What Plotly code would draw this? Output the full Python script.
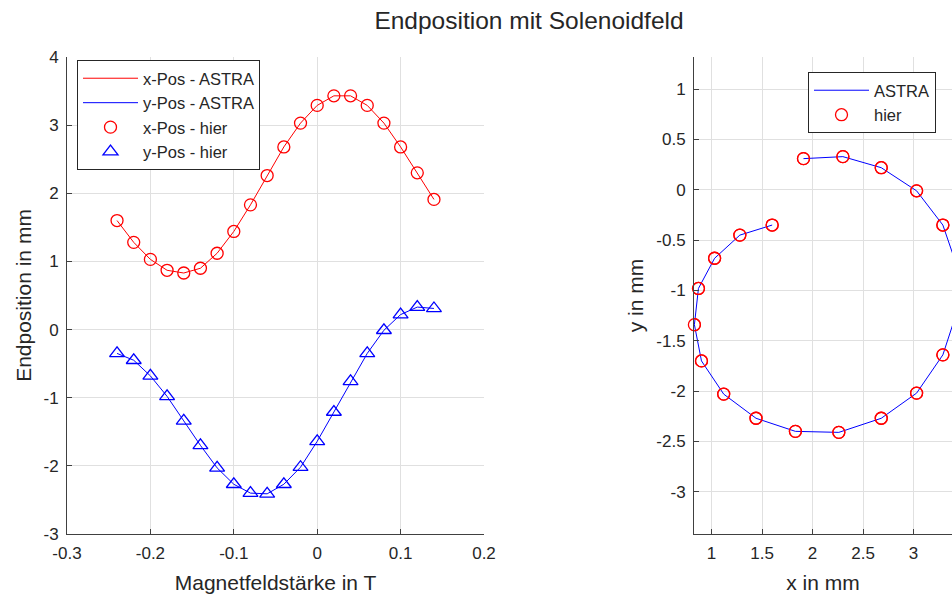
import plotly.graph_objects as go

# Magnetic field strength in T
field = [-0.24, -0.22, -0.20, -0.18, -0.16, -0.14, -0.12, -0.10, -0.08, -0.06,
         -0.04, -0.02, 0.00, 0.02, 0.04, 0.06, 0.08, 0.10, 0.12, 0.14]
# End position x in mm
x_pos = [1.60, 1.28, 1.03, 0.87, 0.83, 0.90, 1.12, 1.44, 1.83, 2.26,
         2.68, 3.03, 3.29, 3.43, 3.43, 3.29, 3.03, 2.68, 2.30, 1.91]
# End position y in mm
y_pos = [-0.35, -0.45, -0.68, -0.98, -1.34, -1.70, -2.03, -2.27, -2.40, -2.41,
         -2.27, -2.02, -1.64, -1.21, -0.76, -0.35, -0.01, 0.22, 0.33, 0.31]

FONT = "Liberation Sans, Arial, sans-serif"
TXT = "#262626"
RED = "#ff0000"
BLUE = "#0000ff"

circle = dict(symbol="circle-open", size=12, color=RED, line=dict(width=1.3, color=RED))
triangle = dict(symbol="triangle-up-open", size=13, color=BLUE, line=dict(width=1.3, color=BLUE))

fig = go.Figure()

# Left subplot
fig.add_trace(go.Scatter(x=field, y=x_pos, mode="lines", name="x-Pos - ASTRA",
                         line=dict(color=RED, width=1), legend="legend",
                         xaxis="x", yaxis="y", cliponaxis=False))
fig.add_trace(go.Scatter(x=field, y=y_pos, mode="lines", name="y-Pos - ASTRA",
                         line=dict(color=BLUE, width=1), legend="legend",
                         xaxis="x", yaxis="y", cliponaxis=False))
fig.add_trace(go.Scatter(x=field, y=x_pos, mode="markers", name="x-Pos - hier",
                         marker=circle, legend="legend",
                         xaxis="x", yaxis="y", cliponaxis=False))
fig.add_trace(go.Scatter(x=field, y=y_pos, mode="markers", name="y-Pos - hier",
                         marker=triangle, legend="legend",
                         xaxis="x", yaxis="y", cliponaxis=False))

# Right subplot (the axes are cut off by the right figure edge, as in the original)
fig.add_trace(go.Scatter(x=x_pos, y=y_pos, mode="lines", name="ASTRA",
                         line=dict(color=BLUE, width=1), legend="legend2",
                         xaxis="x2", yaxis="y2", cliponaxis=True))
fig.add_trace(go.Scatter(x=x_pos, y=y_pos, mode="markers", name="hier",
                         marker=circle, legend="legend2",
                         xaxis="x2", yaxis="y2", cliponaxis=False))
# same markers again, clipped at the figure edge so the cut-off ones still show
fig.add_trace(go.Scatter(x=x_pos, y=y_pos, mode="markers", name="hier",
                         marker=circle, legend="legend2", showlegend=False,
                         hoverinfo="skip",
                         xaxis="x2", yaxis="y2", cliponaxis=True))

W, H = 952, 595
ydom = [(H - 534) / H, (H - 57) / H]
x2_start = 0.826
px_per_mm = 101.0

axis_common = dict(
    showline=True, linecolor="#404040", linewidth=1, mirror=False,
    ticks="inside", ticklen=5, tickcolor="#404040",
    showgrid=True, gridcolor="#e0e0e0", gridwidth=1,
    zeroline=False, automargin=False,
    tickfont=dict(family=FONT, size=17, color=TXT),
    title_font=dict(family=FONT, size=21, color=TXT),
)

fig.update_layout(
    width=W, height=H,
    margin=dict(l=0, r=0, t=0, b=0, autoexpand=False),
    paper_bgcolor="white", plot_bgcolor="white",
    font=dict(family=FONT, color=TXT),
    title=dict(text="Endposition mit Solenoidfeld", x=529 / W, xanchor="center",
               y=1 - 20 / H, yanchor="middle", automargin=False,
               font=dict(family=FONT, size=24.5, color=TXT)),
    xaxis=dict(domain=[67 / W, 484 / W], range=[-0.3, 0.2],
               tickvals=[-0.3, -0.2, -0.1, 0, 0.1, 0.2],
               ticktext=["-0.3", "-0.2", "-0.1", "0", "0.1", "0.2"],
               ticklabelstandoff=4,
               title=dict(text="Magnetfeldstärke in T", standoff=12),
               anchor="y", **axis_common),
    yaxis=dict(domain=ydom, range=[-3, 4],
               tickvals=[-3, -2, -1, 0, 1, 2, 3, 4],
               ticktext=["-3", "-2", "-1", "0", "1", "2", "3", "4"],
               ticklabelstandoff=4,
               title=dict(text="Endposition in mm", standoff=6),
               anchor="x", **axis_common),
    xaxis2=dict(domain=[694 / W, 1.0],
                range=[x2_start, x2_start + (952 - 694) / px_per_mm],
                tickvals=[1, 1.5, 2, 2.5, 3], ticktext=["1", "1.5", "2", "2.5", "3"],
                ticklabelstandoff=4,
                title=dict(text="x in mm", standoff=12),
                anchor="y2", **axis_common),
    yaxis2=dict(domain=ydom, range=[-3.42, 1.32],
                tickvals=[-3, -2.5, -2, -1.5, -1, -0.5, 0, 0.5, 1],
                ticktext=["-3", "-2.5", "-2", "-1.5", "-1", "-0.5", "0", "0.5", "1"],
                ticklabelstandoff=4,
                title=dict(text="y in mm", standoff=6),
                anchor="x2", **axis_common),
    legend=dict(x=77 / W, y=1 - 60 / H, xanchor="left", yanchor="top",
                bgcolor="white", bordercolor="#262626", borderwidth=1,
                font=dict(family=FONT, size=16.5, color=TXT),
                itemwidth=55, tracegroupgap=0, traceorder="normal"),
    legend2=dict(x=808 / W, y=1 - 72 / H, xanchor="left", yanchor="top",
                 bgcolor="white", bordercolor="#262626", borderwidth=1,
                 font=dict(family=FONT, size=16.5, color=TXT),
                 itemwidth=55, tracegroupgap=0, traceorder="normal"),
    showlegend=True,
)

fig.write_html(
    "out.html",
    post_script="document.body.style.margin='0';document.body.style.overflow='hidden';",
)
